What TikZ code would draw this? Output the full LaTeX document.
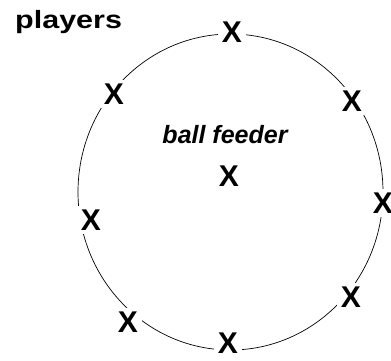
\documentclass[tikz,border=0pt]{standalone}
\usepackage{fontspec}
\setmainfont{Liberation Sans}
\newfontfamily\titlefont[FakeStretch=1.22]{Liberation Sans}
\usetikzlibrary{positioning}

\begin{document}
\begin{tikzpicture}[x=1pt, y=1pt,
    player/.style={font=\fontsize{30}{30}\selectfont\bfseries, fill=white, inner sep=4pt},
    caption/.style={inner sep=0pt}]
    \useasboundingbox (0,0) rectangle (391,360);

    % Ring
    \draw[line width=0.7pt] (230.5,168) ellipse [x radius=152.5, y radius=158];

    % Players on the ring
    \node[player] (top)    at (232,328) {X};
    \node[player] (uleft)  at (114,266) {X};
    \node[player] (uright) at (352,259) {X};
    \node[player] (right)  at (383,157) {X};
    \node[player] (left)   at (91,140)  {X};
    \node[player] (lright) at (351,63)  {X};
    \node[player] (lleft)  at (128,38)  {X};
    \node[player] (bottom) at (228,17)  {X};

    % Ball feeder in the middle
    \node[player] (feeder) at (229,184) {X};
    \node[caption, font=\fontsize{25}{25}\selectfont\bfseries\itshape]
        (feederlabel) [above=18pt of feeder, xshift=-4pt] {ball feeder};

    % Title
    \node[caption, anchor=base west, font=\titlefont\fontsize{25}{25}\selectfont\bfseries]
        (title) at (15,332) {players};
\end{tikzpicture}
\end{document}
